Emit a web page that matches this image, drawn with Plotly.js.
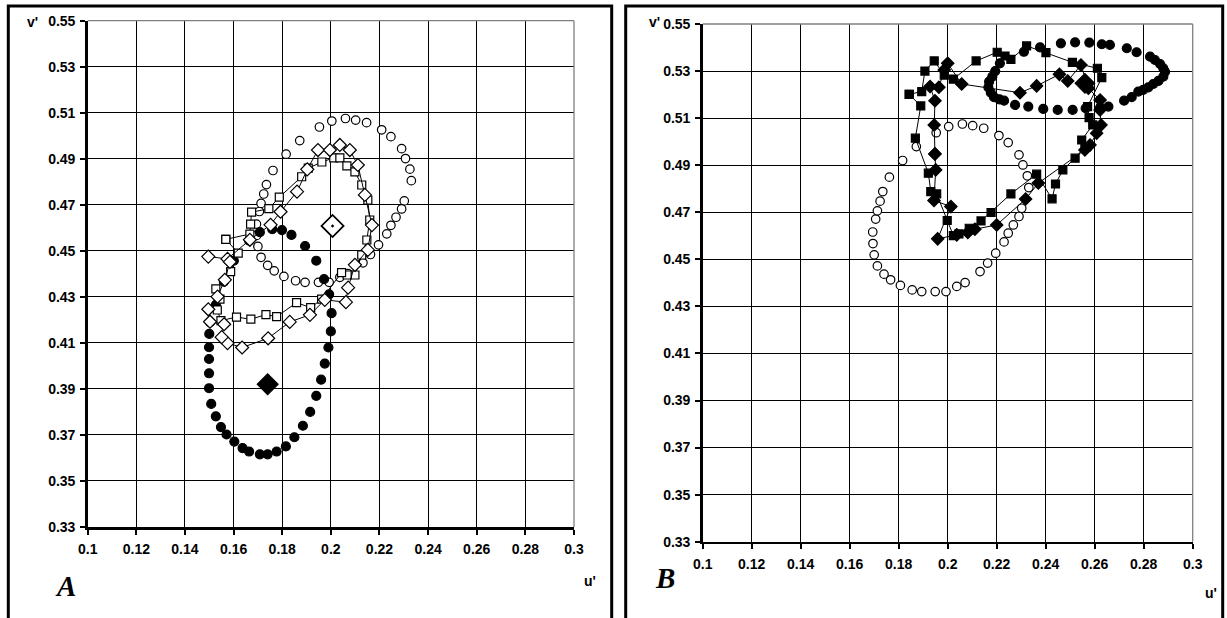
<!DOCTYPE html>
<html><head><meta charset="utf-8">
<script src="https://cdn.plot.ly/plotly-3.0.1.min.js"></script>
<style>html,body{margin:0;padding:0;background:#fff}#chart{width:1227px;height:618px}</style>
</head><body><div id="chart"></div>
<script>
// Open-circle ellipse (same reference locus in both panels)
const refU = [0.1872,0.1953,0.2004,0.2060,0.2102,0.2147,0.2209,0.2247,0.2291,0.2307,0.2325,0.2331,0.2302,0.2291,0.2268,0.2247,0.2230,0.2196,0.2163,0.2132,0.2071,0.2037,0.1993,0.1949,0.1894,0.1855,0.1807,0.1767,0.1740,0.1713,0.1700,0.1695,0.1694,0.1706,0.1713,0.1724,0.1735,0.1762,0.1816];
const refV = [0.4979,0.5038,0.5064,0.5075,0.5068,0.5057,0.5026,0.4996,0.4944,0.4901,0.4855,0.4805,0.4717,0.4682,0.4646,0.4611,0.4574,0.4526,0.4484,0.4448,0.4401,0.4385,0.4363,0.4363,0.4363,0.4370,0.4389,0.4413,0.4437,0.4472,0.4519,0.4567,0.4616,0.4671,0.4706,0.4747,0.4788,0.4849,0.4920];

// Panel A
const aFillU = [0.1500,0.1499,0.1499,0.1499,0.1499,0.1508,0.1527,0.1548,0.1571,0.1603,0.1637,0.1664,0.1708,0.1740,0.1777,0.1815,0.1850,0.1885,0.1915,0.1940,0.1960,0.1975,0.1990,0.2000,0.2003,0.1993,0.1972,0.1940,0.1894,0.1838,0.1799,0.1759,0.1708,0.1664,0.1601,0.1560,0.1527,0.1503];
const aFillV = [0.4139,0.4081,0.4030,0.3968,0.3903,0.3835,0.3781,0.3734,0.3702,0.3671,0.3643,0.3628,0.3616,0.3616,0.3628,0.3650,0.3690,0.3740,0.3800,0.3870,0.3940,0.4010,0.4080,0.4150,0.4229,0.4311,0.4377,0.4457,0.4521,0.4569,0.4590,0.4594,0.4581,0.4544,0.4457,0.4366,0.4265,0.4190];
const aSqU = [0.1568,0.1667,0.1670,0.1674,0.1745,0.1788,0.1880,0.1907,0.1963,0.2012,0.2037,0.2066,0.2099,0.2127,0.2152,0.2160,0.2148,0.2127,0.2099,0.2067,0.2044,0.1962,0.1917,0.1859,0.1777,0.1733,0.1671,0.1612,0.1548,0.1533,0.1544,0.1527,0.1588,0.1619,0.1568];
const aSqV = [0.4550,0.4573,0.4616,0.4668,0.4683,0.4733,0.4822,0.4859,0.4886,0.4904,0.4904,0.4869,0.4843,0.4786,0.4721,0.4634,0.4547,0.4482,0.4395,0.4395,0.4405,0.4290,0.4253,0.4275,0.4214,0.4223,0.4203,0.4212,0.4197,0.4243,0.4290,0.4335,0.4410,0.4490,0.4550];
const aDiU = [0.1496,0.1575,0.1667,0.1752,0.1793,0.1861,0.1903,0.1947,0.1996,0.2037,0.2078,0.2111,0.2140,0.2169,0.2152,0.2099,0.2071,0.2062,0.1975,0.1914,0.1831,0.1742,0.1635,0.1575,0.1551,0.1561,0.1503,0.1496,0.1534,0.1564,0.1585];
const aDiV = [0.4475,0.4465,0.4548,0.4613,0.4670,0.4757,0.4854,0.4938,0.4938,0.4960,0.4938,0.4873,0.4743,0.4612,0.4504,0.4439,0.4340,0.4277,0.4287,0.4222,0.4191,0.4120,0.4080,0.4099,0.4125,0.4181,0.4192,0.4246,0.4301,0.4374,0.4452];
const aOpenBigU = [0.2007], aOpenBigV = [0.4608];
const aFillBigU = [0.1740], aFillBigV = [0.3920];

// Panel B
const bFillU = [0.2166,0.2176,0.2189,0.2211,0.2230,0.2275,0.2329,0.2390,0.2449,0.2510,0.2563,0.2622,0.2656,0.2720,0.2751,0.2778,0.2798,0.2819,0.2839,0.2860,0.2880,0.2887,0.2880,0.2867,0.2846,0.2826,0.2771,0.2731,0.2662,0.2629,0.2578,0.2520,0.2462,0.2377,0.2311,0.2213,0.2194,0.2182,0.2169];
const bFillV = [0.5231,0.5208,0.5189,0.5180,0.5174,0.5156,0.5149,0.5139,0.5135,0.5135,0.5142,0.5145,0.5149,0.5174,0.5189,0.5213,0.5220,0.5231,0.5245,0.5258,0.5276,0.5297,0.5312,0.5330,0.5347,0.5361,0.5380,0.5397,0.5411,0.5414,0.5421,0.5422,0.5418,0.5401,0.5382,0.5333,0.5300,0.5276,0.5255];
const bSqU = [0.1843,0.1894,0.1907,0.1945,0.1986,0.2023,0.2116,0.2202,0.2234,0.2258,0.2322,0.2401,0.2509,0.2611,0.2629,0.2571,0.2577,0.2592,0.2547,0.2560,0.2520,0.2470,0.2440,0.2426,0.2363,0.2258,0.2177,0.2136,0.2088,0.2046,0.2023,0.1998,0.1955,0.1931,0.1921,0.1868,0.1890,0.1843];
const bSqV = [0.5201,0.5213,0.5300,0.5343,0.5283,0.5266,0.5343,0.5380,0.5364,0.5350,0.5407,0.5378,0.5337,0.5312,0.5272,0.5149,0.5102,0.5071,0.5007,0.4979,0.4930,0.4880,0.4820,0.4757,0.4862,0.4778,0.4699,0.4663,0.4632,0.4608,0.4601,0.4665,0.4778,0.4788,0.4866,0.5015,0.5152,0.5201];
const bDiU = [0.1948,0.1951,0.1944,0.2013,0.1959,0.2037,0.2082,0.2111,0.2200,0.2318,0.2370,0.2560,0.2581,0.2608,0.2626,0.2622,0.2622,0.2574,0.2544,0.2490,0.2456,0.2363,0.2295,0.2057,0.2000,0.1986,0.1964,0.1928,0.1948,0.1945,0.1948];
const bDiV = [0.4948,0.4880,0.4750,0.4724,0.4587,0.4604,0.4614,0.4628,0.4646,0.4756,0.4824,0.4965,0.4986,0.5036,0.5071,0.5135,0.5177,0.5227,0.5326,0.5258,0.5286,0.5237,0.5208,0.5245,0.5333,0.5305,0.5231,0.5234,0.5174,0.5071,0.4948];
const bFillBigU = [0.2560], bFillBigV = [0.5248];

const xTicks = [0.1,0.12,0.14,0.16,0.18,0.2,0.22,0.24,0.26,0.28,0.3];
const yTicks = [0.33,0.35,0.37,0.39,0.41,0.43,0.45,0.47,0.49,0.51,0.53,0.55];

function ln(u,v,sym,fill,size,xa,ya){
  return {x:u,y:v,xaxis:xa,yaxis:ya,type:'scatter',mode:'lines+markers',
    line:{color:'#000',width:1},
    marker:{symbol:sym,size:size,color:fill,line:{color:'#000',width:1.2}},hoverinfo:'skip'};
}
function mk(u,v,sym,fill,size,xa,ya,lw){
  return {x:u,y:v,xaxis:xa,yaxis:ya,type:'scatter',mode:'markers',
    marker:{symbol:sym,size:size,color:fill,line:{color:'#000',width:lw||1.2}},hoverinfo:'skip'};
}
const data = [
  mk(refU,refV,'circle','#fff',8.5,'x','y'),
  mk(aFillU,aFillV,'circle','#000',9,'x','y'),
  ln(aSqU,aSqV,'square','#fff',8,'x','y'),
  ln(aDiU,aDiV,'diamond','#fff',10,'x','y'),
  mk(aOpenBigU,aOpenBigV,'diamond-dot','#fff',17,'x','y',1.8),
  mk(aFillBigU,aFillBigV,'diamond','#000',16,'x','y'),
  mk(refU,refV,'circle','#fff',8.5,'x2','y2'),
  mk(bFillU,bFillV,'circle','#000',9,'x2','y2'),
  ln(bSqU,bSqV,'square','#000',8,'x2','y2'),
  ln(bDiU,bDiV,'diamond','#000',9.5,'x2','y2'),
  mk(bFillBigU,bFillBigV,'diamond','#000',15,'x2','y2')
];

const F = {family:'Liberation Sans, Arial, sans-serif', size:14, color:'#000', weight:'bold'};
function xax(dom){ return {domain:dom,range:[0.1,0.3],tickvals:xTicks,ticktext:xTicks.map(String),
  showgrid:true,gridcolor:'#000',gridwidth:1,zeroline:false,showline:true,linecolor:'#000',linewidth:2.5,
  ticks:'outside',ticklen:5,tickwidth:2,tickcolor:'#000',tickfont:F,fixedrange:true,ticklabelstandoff:3};}
function yax(dom,anchor){ return {domain:dom,anchor:anchor,range:[0.33,0.55],tickvals:yTicks,ticktext:yTicks.map(v=>v.toFixed(2)),
  showgrid:true,gridcolor:'#000',gridwidth:1,zeroline:false,showline:true,linecolor:'#000',linewidth:2.5,
  ticks:'outside',ticklen:5,tickwidth:2,tickcolor:'#000',tickfont:F,fixedrange:true,ticklabelstandoff:2};}

const W=1227,H=618;
const px=(x)=>x/W, py=(y)=>(H-y)/H;
const layout = {
  width:W,height:H,margin:{l:0,r:0,t:0,b:0},paper_bgcolor:'#fff',plot_bgcolor:'#fff',showlegend:false,
  xaxis:Object.assign(xax([px(87.7),px(574)]),{anchor:'y'}),
  yaxis:yax([py(527),py(20.7)],'x'),
  xaxis2:Object.assign(xax([px(702.7),px(1192.7)]),{anchor:'y2'}),
  yaxis2:yax([py(541.7),py(24)],'x2'),
  shapes:[
    {type:'line',xref:'x domain',yref:'y domain',x0:0,x1:1,y0:1,y1:1,line:{color:'#808080',width:1.3}},
    {type:'line',xref:'x domain',yref:'y domain',x0:1,x1:1,y0:0,y1:1,line:{color:'#808080',width:1.3}},
    {type:'line',xref:'x2 domain',yref:'y2 domain',x0:0,x1:1,y0:1,y1:1,line:{color:'#808080',width:1.3}},
    {type:'line',xref:'x2 domain',yref:'y2 domain',x0:1,x1:1,y0:0,y1:1,line:{color:'#808080',width:1.3}},
    {type:'rect',xref:'paper',yref:'paper',x0:px(8.3),x1:px(611.7),y0:-0.05,y1:py(6),line:{color:'#000',width:3}},
    {type:'rect',xref:'paper',yref:'paper',x0:px(625.7),x1:px(1222.7),y0:-0.05,y1:py(6),line:{color:'#000',width:3}}
  ],
  annotations:[
    {text:"v'",xref:'paper',yref:'paper',x:px(32),y:py(22),showarrow:false,font:F,xanchor:'center',yanchor:'middle'},
    {text:"v'",xref:'paper',yref:'paper',x:px(654),y:py(22),showarrow:false,font:F,xanchor:'center',yanchor:'middle'},
    {text:"u'",xref:'paper',yref:'paper',x:px(590),y:py(581),showarrow:false,font:F,xanchor:'center',yanchor:'middle'},
    {text:"u'",xref:'paper',yref:'paper',x:px(1211),y:py(593),showarrow:false,font:F,xanchor:'center',yanchor:'middle'},
    {text:"A",xref:'paper',yref:'paper',x:px(65.5),y:py(586),showarrow:false,font:{family:'Liberation Serif, Times New Roman, serif',size:29,color:'#000',weight:'bold',style:'italic'},xanchor:'center',yanchor:'middle'},
    {text:"B",xref:'paper',yref:'paper',x:px(665),y:py(578),showarrow:false,font:{family:'Liberation Serif, Times New Roman, serif',size:29,color:'#000',weight:'bold',style:'italic'},xanchor:'center',yanchor:'middle'}
  ]
};
Plotly.newPlot('chart',data,layout,{staticPlot:true,displayModeBar:false});
</script></body></html>
